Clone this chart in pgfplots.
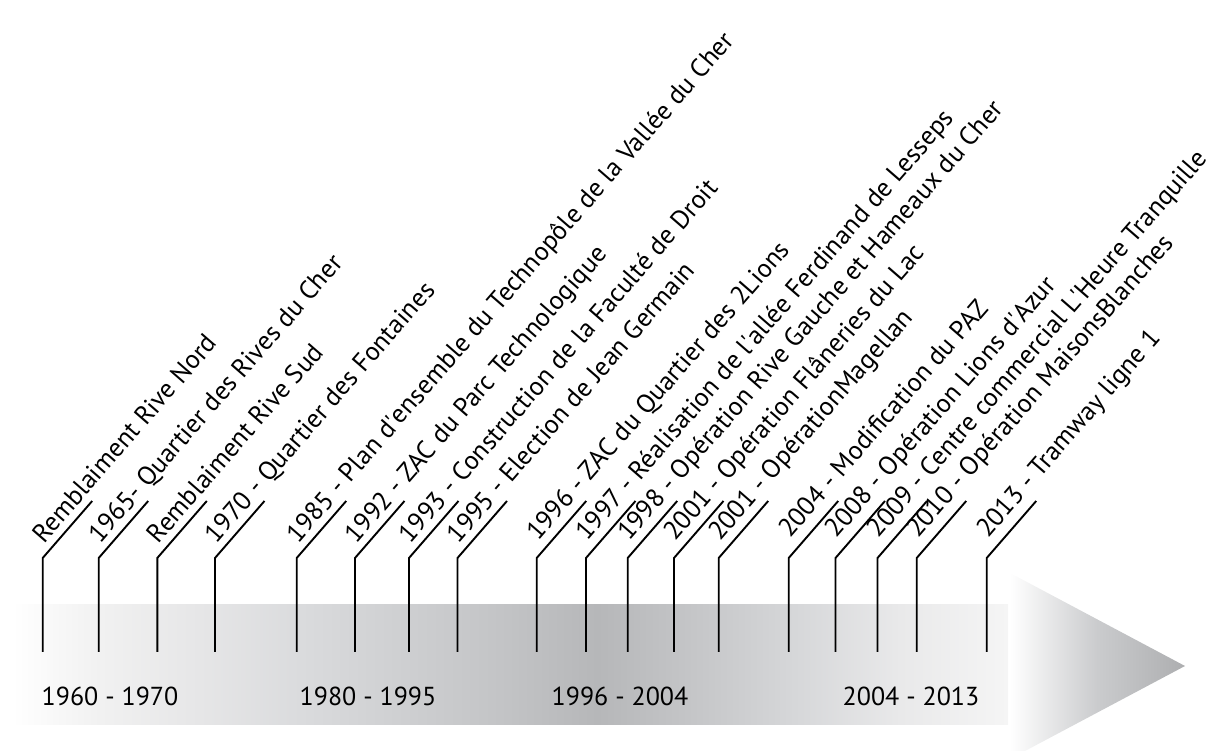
\documentclass[border=0pt]{standalone}
\usepackage{fontspec}
\setmainfont{PT Sans}
\usepackage{pgfplots}
\usepackage{pgfplotstable}
\pgfplotsset{compat=1.18}

\definecolor{b1}{HTML}{F1F1F1}
\definecolor{b2}{HTML}{E6E6E7}
\definecolor{b3}{HTML}{DADBDD}
\definecolor{b4}{HTML}{C3C4C6}
\definecolor{b5}{HTML}{B6B7B9}
\definecolor{b6}{HTML}{C3C4C6}
\definecolor{b7}{HTML}{D7D8DA}
\definecolor{b8}{HTML}{E9E9EA}
\definecolor{b9}{HTML}{F5F5F5}
\definecolor{a2}{HTML}{CACBCD}
\definecolor{a3}{HTML}{ADAEB0}

% tikz maps the path's box onto 25bp..75bp
\pgfdeclarehorizontalshading{band}{100bp}{color(0bp)=(white); color(25bp)=(white);
  color(29.4bp)=(b1); color(34.4bp)=(b2); color(39.5bp)=(b3); color(49.5bp)=(b4);
  color(54.4bp)=(b5); color(58.6bp)=(b6); color(64.6bp)=(b7); color(69.6bp)=(b8);
  color(75bp)=(b9); color(100bp)=(b9)}
\pgfdeclarehorizontalshading{head}{100bp}{color(0bp)=(white); color(25bp)=(white);
  color(50bp)=(a2); color(75bp)=(a3); color(100bp)=(a3)}

% events: label anchor (base west), just above the slanted stem
\pgfplotstableread[col sep=comma]{
x,y,label
43.9,206.5,Remblaiment Rive Nord
99.9,206.5,1965- Quartier des Rives du Cher
158.5,206.5,Remblaiment Rive Sud
216.2,206.5,1970 - Quartier des Fontaines
297.9,206.5,1985 - Plan d\textquotesingle ensemble du Technopôle de la Vallée du Cher
356.2,206.5,1992 - ZAC du Parc Technologique
410.2,206.5,1993 - Construction de la Faculté de Droit
458.7,206.5,1995 - Election de Jean Germain
537.9,209,1996 - ZAC du Quartier des 2Lions
587.2,209,1997 - Réalisation de l\textquotesingle allée Ferdinand de Lesseps
628.9,209,1998 - Opération Rive Gauche et Hameaux du Cher
675.2,209,2001 - Opération Flâneries du Lac
719.9,209,2001 - OpérationMagellan
789.9,212,2004 - Modification du PAZ
836.7,212,2008 - Opération Lions d\textquotesingle Azur
878.7,212,2009 - Centre commercial L\textquotesingle Heure Tranquille
917.9,212,2010 - Opération MaisonsBlanches
987.9,212,2013 - Tramway ligne 1
}\events

\pgfplotstableread[col sep=comma]{
x,y,label
110,45,1960 - 1970
368,45,1980 - 1995
620,45,1996 - 2004
911,45,2004 - 2013
}\periods

\begin{document}
\begin{tikzpicture}
\useasboundingbox (0,0) rectangle (1215pt,751pt);
\begin{axis}[
  at={(0,0)}, anchor=south west,
  width=1215pt, height=751pt, scale only axis,
  xmin=0, xmax=1215, ymin=0, ymax=751,
  hide axis, clip=false,
]
% band and arrow head
\addplot[draw=none, shade, shading=band] coordinates {(12,26)(1008,26)(1008,146)(12,146)} -- cycle;
\addplot[draw=none, shade, shading=head] coordinates {(1010,178)(1185,85)(1025,0)(1010,0)} -- cycle;

% stems
\addplot[black, line width=1.9pt, line join=miter, unbounded coords=jump] coordinates {
(42.7,99)(42.7,193)(92.2,250) (nan,nan)
(98.7,99)(98.7,193)(148.2,250) (nan,nan)
(157.3,99)(157.3,193)(206.8,250) (nan,nan)
(215,99)(215,193)(264.5,250) (nan,nan)
(296.7,99)(296.7,193)(346.2,250) (nan,nan)
(355,99)(355,193)(404.5,250) (nan,nan)
(409,99)(409,193)(458.5,250) (nan,nan)
(457.5,99)(457.5,193)(507,250) (nan,nan)
(536.7,99)(536.7,193)(586.2,250) (nan,nan)
(586,99)(586,193)(635.5,250) (nan,nan)
(627.7,99)(627.7,193)(677.2,250) (nan,nan)
(674,99)(674,193)(723.5,250) (nan,nan)
(718.7,99)(718.7,193)(768.2,250) (nan,nan)
(788.7,99)(788.7,193)(838.2,250) (nan,nan)
(835.5,99)(835.5,193)(885,250) (nan,nan)
(877.5,99)(877.5,193)(927,250) (nan,nan)
(916.7,99)(916.7,193)(966.2,250) (nan,nan)
(986.7,99)(986.7,193)(1036.2,250)
};

% event labels
\addplot[draw=none, mark=none, nodes near coords, point meta=explicit symbolic,
  every node near coord/.append style={rotate=49, anchor=base west, inner sep=0pt,
    text=black, font=\fontsize{26.2}{30}\selectfont}]
  table[x=x, y=y, meta=label] {\events};

% periods
\addplot[draw=none, mark=none, nodes near coords, point meta=explicit symbolic,
  every node near coord/.append style={anchor=base, inner sep=0pt,
    text=black, font=\fontsize{26}{30}\selectfont}]
  table[x=x, y=y, meta=label] {\periods};
\end{axis}
\end{tikzpicture}
\end{document}
